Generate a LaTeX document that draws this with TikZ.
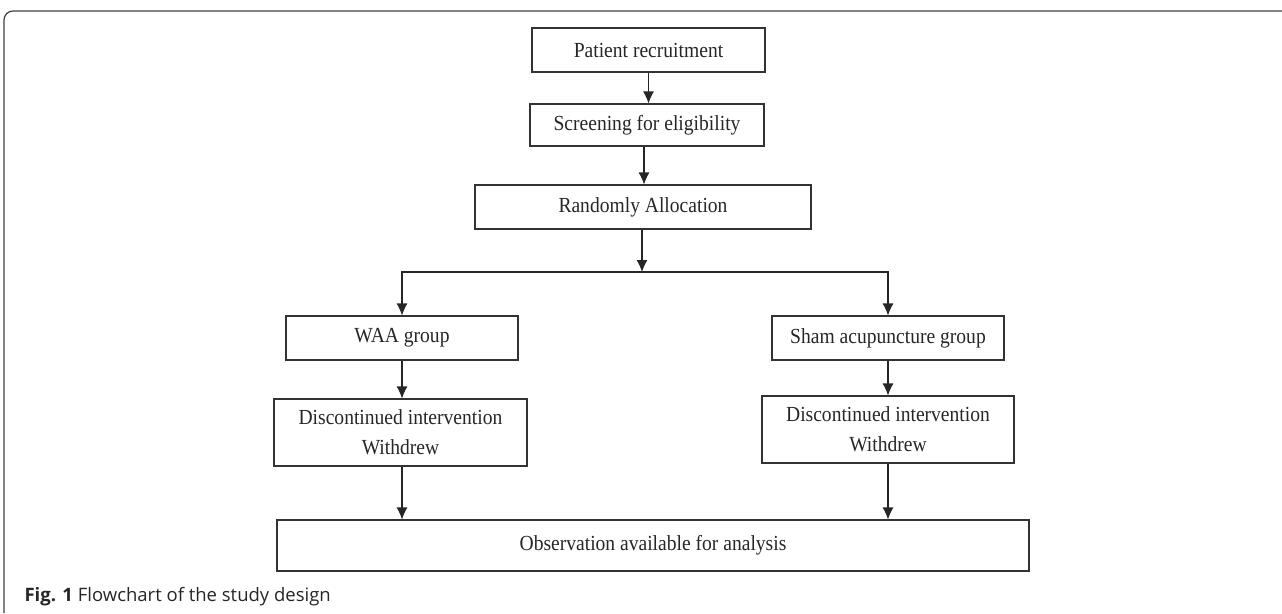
\documentclass[tikz,border=0pt]{standalone}
\usepackage{fontspec}
\setmainfont{Liberation Serif}[FakeStretch=0.91]
\newfontfamily\capfont{Open Sans}
\usetikzlibrary{arrows, arrows.meta, positioning, calc}

\tikzset{
  flowbox/.style={draw=black!80, line width=1.1pt, minimum width=#1, inner sep=2pt, align=center, font=\fontsize{21.5}{30}\selectfont, text=black!85},
  flowbox/.default={232pt},
  flowarrow/.style={->, >={Latex[length=12pt,width=11pt]}, line width=1.1pt, black!85}
}

\begin{document}
\begin{tikzpicture}[x=1pt,y=-1pt]
    \useasboundingbox (0,0) rectangle (1282,613);
    % outer frame
    \draw[black!75, line width=1.2pt, rounded corners=9pt] (4,613) -- (4,11) -- (1282,11);

    \node[flowbox=233pt, minimum height=44pt] (recruit) at (648.5,50) {Patient recruitment};
    \node[flowbox=234pt, minimum height=42pt] (screen) at (647,125) {Screening for eligibility};
    \node[flowbox=336pt, minimum height=44pt] (alloc) at (643,207) {Randomly Allocation};

    \node[flowbox, minimum height=44pt] (waa) at (402,338) {WAA group};
    \node[flowbox, minimum height=44pt] (sham) at (888,338) {Sham acupuncture group};

    \node[flowbox=253pt, minimum height=67pt] (discL) at (400.5,432.5) {Discontinued intervention\\Withdrew};
    \node[flowbox=252pt, minimum height=67pt] (discR) at (888,429.5) {Discontinued intervention\\Withdrew};

    \node[flowbox=752pt, minimum height=51pt] (obs) at (653,545.5) {Observation available for analysis};

    \coordinate (split) at (642,272);

    \draw[flowarrow] (recruit.south) -- (recruit.south |- screen.north);
    \draw[flowarrow] (screen.south -| 644,0) -- (644,0 |- alloc.north);
    \draw[flowarrow] (split |- alloc.south) -- (split);
    \draw[flowarrow] (split) -| (waa.north);
    \draw[flowarrow] (split) -| (sham.north);

    \draw[flowarrow] (waa.south) -- (waa.south |- discL.north);
    \draw[flowarrow] (sham.south) -- (sham.south |- discR.north);
    \draw[flowarrow] (waa.south |- discL.south) -- (waa.south |- obs.north);
    \draw[flowarrow] (sham.south |- discR.south) -- (sham.south |- obs.north);

    \node[anchor=west, font=\capfont\fontsize{18.5}{22}\selectfont, text=black!85] (caption) at (21,597) {\textbf{Fig. 1} Flowchart of the study design};
\end{tikzpicture}
\end{document}
